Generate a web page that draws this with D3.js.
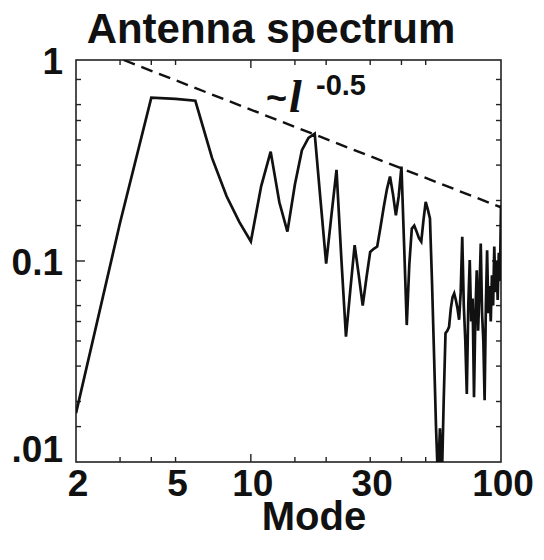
<html>
<head>
<script src="https://d3js.org/d3.v7.min.js"></script>
<style>
  body { margin: 0; background: #fff; }
  text { font-family: "Liberation Sans", Arial, sans-serif; font-weight: bold; fill: #111; }
</style>
</head>
<body>
<div id="container"></div>
<script>
// spectrum values for modes 2..100
var modes = d3.range(2, 101);
var power = [
  0.0175, 0.155, 0.65, 0.64, 0.627, 0.325, 0.21, 0.156, 0.125,          // 2-10
  0.236, 0.35, 0.196, 0.14, 0.24, 0.356, 0.41, 0.43, 0.199, 0.097,      // 11-20
  0.169, 0.284, 0.103, 0.042, 0.0725, 0.12, 0.085, 0.06, 0.083, 0.111,  // 21-30
  0.115, 0.118, 0.148, 0.186, 0.228, 0.263, 0.215, 0.169, 0.21, 0.295,  // 31-40
  0.119, 0.048, 0.096, 0.145, 0.15, 0.14, 0.13, 0.125, 0.16, 0.197,     // 41-50
  0.18, 0.163, 0.078, 0.034, 0.0147, 0.008, 0.0147, 0.008, 0.02, 0.0437,// 51-60
  0.045, 0.047, 0.058, 0.066, 0.069, 0.064, 0.058, 0.051, 0.07, 0.132,  // 61-70
  0.06, 0.04, 0.0218, 0.06, 0.101, 0.05, 0.065, 0.021, 0.055, 0.09,     // 71-80
  0.045, 0.07, 0.122, 0.055, 0.04, 0.0203, 0.06, 0.113, 0.055, 0.075,   // 81-90
  0.05, 0.085, 0.06, 0.118, 0.07, 0.1, 0.064, 0.11, 0.08, 0.19          // 91-100
];
// reference line ~ l^-0.5
var guideX = [3.1, 100];
var guideY = [1, 0.185];

var xTickVals = [3, 4, 5, 10, 15, 20, 30, 40, 50];
var xLabelVals = [2, 5, 10, 30, 100];
var yTickVals = [0.8, 0.6, 0.5, 0.4, 0.3, 0.2, 0.15, 0.08, 0.06, 0.05, 0.04, 0.03, 0.02, 0.015];
var yMajorVals = [0.1];
var yLabels = [{v: 1, t: "1"}, {v: 0.1, t: "0.1"}, {v: 0.01, t: ".01"}];

var W = 544, H = 560;
var pl = 76, pr = 501, pt = 60, pb = 462;

var svg = d3.select("#container").append("svg")
  .attr("width", W).attr("height", H);

var x = d3.scaleLog().domain([2, 100]).range([pl, pr]);
var y = d3.scaleLog().domain([0.01, 1]).range([pb, pt]);

svg.append("defs").append("clipPath").attr("id", "plot")
  .append("rect").attr("x", pl).attr("y", pt)
  .attr("width", pr - pl).attr("height", pb - pt);

// frame
svg.append("rect")
  .attr("x", pl).attr("y", pt)
  .attr("width", pr - pl).attr("height", pb - pt)
  .attr("fill", "none").attr("stroke", "#222").attr("stroke-width", 1.6);

// ticks, pointing inward on all four sides
var tk = svg.append("g").attr("stroke", "#222").attr("stroke-width", 1.4);
xTickVals.forEach(function(v) {
  var len = v == 10 ? 8 : 5;
  tk.append("line").attr("x1", x(v)).attr("x2", x(v)).attr("y1", pb).attr("y2", pb - len);
  tk.append("line").attr("x1", x(v)).attr("x2", x(v)).attr("y1", pt).attr("y2", pt + len);
});
yTickVals.concat(yMajorVals).forEach(function(v) {
  var len = yMajorVals.indexOf(v) >= 0 ? 9 : 5;
  tk.append("line").attr("x1", pl).attr("x2", pl + len).attr("y1", y(v)).attr("y2", y(v));
  tk.append("line").attr("x1", pr).attr("x2", pr - len).attr("y1", y(v)).attr("y2", y(v));
});

// tick labels
svg.selectAll(".xl").data(xLabelVals).enter().append("text")
  .attr("x", function(d) { return x(d) + 2; })
  .attr("y", 496)
  .attr("text-anchor", "middle")
  .attr("font-size", 37)
  .text(function(d) { return d; });

svg.selectAll(".yl").data(yLabels).enter().append("text")
  .attr("x", 63)
  .attr("y", function(d) { return d.v == 0.01 ? pb : y(d.v) + 14; })
  .attr("text-anchor", "end")
  .attr("font-size", 37)
  .text(function(d) { return d.t; });

// title and axis label
svg.append("text").attr("x", 271).attr("y", 43).attr("text-anchor", "middle")
  .attr("font-size", 42).text("Antenna spectrum");
svg.append("text").attr("x", 314).attr("y", 530).attr("text-anchor", "middle")
  .attr("font-size", 40).text("Mode");

var plot = svg.append("g").attr("clip-path", "url(#plot)");

// dashed guide
plot.append("path")
  .datum(d3.zip(guideX, guideY))
  .attr("d", d3.line().x(function(d) { return x(d[0]); }).y(function(d) { return y(d[1]); }))
  .attr("fill", "none").attr("stroke", "#111").attr("stroke-width", 2.4)
  .attr("stroke-dasharray", "12,7");

// spectrum
plot.append("path")
  .datum(d3.zip(modes, power))
  .attr("d", d3.line().x(function(d) { return x(d[0]); }).y(function(d) { return y(d[1]); }))
  .attr("fill", "none").attr("stroke", "#111").attr("stroke-width", 2.7)
  .attr("stroke-linejoin", "miter");

// annotation ~l^-0.5
svg.append("text").attr("x", 266).attr("y", 110).attr("font-size", 36).text("~");
svg.append("text").attr("x", 289).attr("y", 112)
  .style("font-family", "'Liberation Serif', 'DejaVu Serif', serif")
  .style("font-style", "italic")
  .attr("font-size", 46).text("l");
svg.append("text").attr("x", 316).attr("y", 95).attr("font-size", 29).text("-0.5");
</script>
</body>
</html>
